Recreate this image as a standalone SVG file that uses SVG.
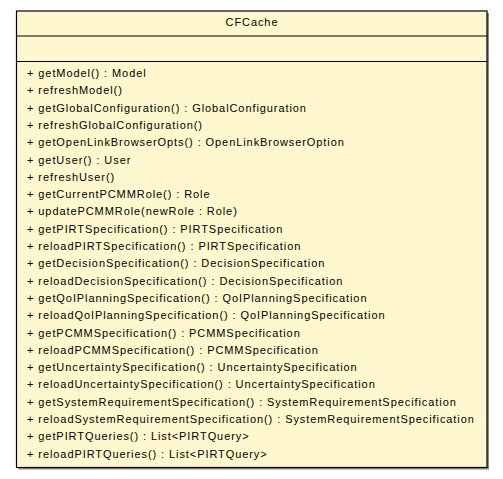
<svg xmlns="http://www.w3.org/2000/svg" width="503" height="479" viewBox="0 0 503 479">
<style>
.t{font-family:"Liberation Sans",Arial,sans-serif;font-size:11px;letter-spacing:0.92px;fill:#000}
.box{fill:#FFF8CE;stroke:#000;stroke-width:1.2}
.sep{stroke:#000;stroke-width:1.2}
.sh{fill:#8a8a8a}
</style>
<rect width="503" height="479" fill="#fff"/>
<g id="CFCache">
<rect class="sh" x="18.5" y="13" width="470.5" height="456.5"/>
<rect class="box" x="16.5" y="11" width="470.5" height="456.5"/>
<line class="sep" x1="16.5" y1="36" x2="487" y2="36"/>
<line class="sep" x1="16.5" y1="61.5" x2="487" y2="61.5"/>
<text class="t" x="252" y="25.5" text-anchor="middle">CFCache</text>
<text class="t" x="27">
<tspan x="27" y="77">+ getModel() : Model</tspan>
<tspan x="27" y="94.3">+ refreshModel()</tspan>
<tspan x="27" y="111.6">+ getGlobalConfiguration() : GlobalConfiguration</tspan>
<tspan x="27" y="128.9">+ refreshGlobalConfiguration()</tspan>
<tspan x="27" y="146.2">+ getOpenLinkBrowserOpts() : OpenLinkBrowserOption</tspan>
<tspan x="27" y="163.5">+ getUser() : User</tspan>
<tspan x="27" y="180.8">+ refreshUser()</tspan>
<tspan x="27" y="198.1">+ getCurrentPCMMRole() : Role</tspan>
<tspan x="27" y="215.4">+ updatePCMMRole(newRole : Role)</tspan>
<tspan x="27" y="232.7">+ getPIRTSpecification() : PIRTSpecification</tspan>
<tspan x="27" y="250">+ reloadPIRTSpecification() : PIRTSpecification</tspan>
<tspan x="27" y="267.3">+ getDecisionSpecification() : DecisionSpecification</tspan>
<tspan x="27" y="284.6">+ reloadDecisionSpecification() : DecisionSpecification</tspan>
<tspan x="27" y="301.9">+ getQoIPlanningSpecification() : QoIPlanningSpecification</tspan>
<tspan x="27" y="319.2">+ reloadQoIPlanningSpecification() : QoIPlanningSpecification</tspan>
<tspan x="27" y="336.5">+ getPCMMSpecification() : PCMMSpecification</tspan>
<tspan x="27" y="353.8">+ reloadPCMMSpecification() : PCMMSpecification</tspan>
<tspan x="27" y="371.1">+ getUncertaintySpecification() : UncertaintySpecification</tspan>
<tspan x="27" y="388.4">+ reloadUncertaintySpecification() : UncertaintySpecification</tspan>
<tspan x="27" y="405.7">+ getSystemRequirementSpecification() : SystemRequirementSpecification</tspan>
<tspan x="27" y="423">+ reloadSystemRequirementSpecification() : SystemRequirementSpecification</tspan>
<tspan x="27" y="440.3">+ getPIRTQueries() : List&lt;PIRTQuery&gt;</tspan>
<tspan x="27" y="457.6">+ reloadPIRTQueries() : List&lt;PIRTQuery&gt;</tspan>
</text>
</g>
<g id="connectors"/>
</svg>
